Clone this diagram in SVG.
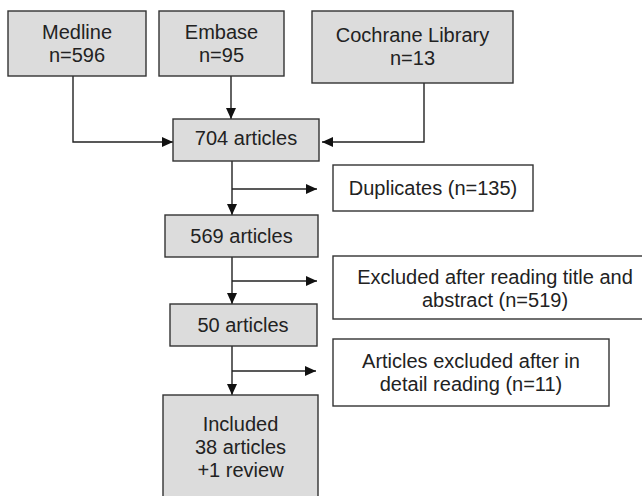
<svg xmlns="http://www.w3.org/2000/svg" width="642" height="496" viewBox="0 0 642 496">
<defs>
<style>
.box{fill:#dcdcdc;stroke:#333;stroke-width:1.4}
.wbox{fill:#fff;stroke:#333;stroke-width:1.4}
.t{font-family:"Liberation Sans",Arial,sans-serif;font-size:20px;fill:#222;text-anchor:middle}
.ln{fill:none;stroke:#222;stroke-width:1.4}
</style>
<marker id="ah" viewBox="0 0 11 10" refX="11" refY="5" markerWidth="11" markerHeight="10" markerUnits="userSpaceOnUse" orient="auto">
<path d="M0,0 L11,5 L0,10 Z" fill="#111"/>
</marker>
</defs>
<rect width="642" height="496" fill="#fff"/>
<g id="connectors">
<path class="ln" d="M73,76 V142 H173" marker-end="url(#ah)"/>
<path class="ln" d="M231,76 V119" marker-end="url(#ah)"/>
<path class="ln" d="M424,83 V142 H322" marker-end="url(#ah)"/>
<path class="ln" d="M232,161 V215" marker-end="url(#ah)"/>
<path class="ln" d="M232,189 H317" marker-end="url(#ah)"/>
<path class="ln" d="M232,257 V304" marker-end="url(#ah)"/>
<path class="ln" d="M232,281 H317" marker-end="url(#ah)"/>
<path class="ln" d="M232,346 V395" marker-end="url(#ah)"/>
<path class="ln" d="M232,371 H316" marker-end="url(#ah)"/>
</g>
<g id="medline">
<rect class="box" x="8" y="11" width="138" height="65"/>
<text class="t" x="77" y="39">Medline</text>
<text class="t" x="77" y="62">n=596</text>
</g>
<g id="embase">
<rect class="box" x="159" y="11" width="125" height="65"/>
<text class="t" x="221.5" y="39">Embase</text>
<text class="t" x="221.5" y="62">n=95</text>
</g>
<g id="cochrane">
<rect class="box" x="312" y="11" width="201" height="72"/>
<text class="t" x="412.5" y="42">Cochrane Library</text>
<text class="t" x="412.5" y="65">n=13</text>
</g>
<g id="articles704">
<rect class="box" x="173" y="119" width="146" height="42"/>
<text class="t" x="246" y="145">704 articles</text>
</g>
<g id="duplicates">
<rect class="wbox" x="333" y="165" width="200" height="46"/>
<text class="t" x="433" y="195">Duplicates (n=135)</text>
</g>
<g id="articles569">
<rect class="box" x="165" y="215" width="153" height="42"/>
<text class="t" x="241.5" y="243">569 articles</text>
</g>
<g id="excluded-title">
<rect class="wbox" x="333" y="256" width="324" height="63"/>
<text class="t" x="495" y="284">Excluded after reading title and</text>
<text class="t" x="495" y="307">abstract (n=519)</text>
</g>
<g id="articles50">
<rect class="box" x="170" y="304" width="147" height="42"/>
<text class="t" x="243" y="332">50 articles</text>
</g>
<g id="excluded-detail">
<rect class="wbox" x="333" y="339" width="276" height="67"/>
<text class="t" x="471" y="368">Articles excluded after in</text>
<text class="t" x="471" y="391">detail reading (n=11)</text>
</g>
<g id="included">
<rect class="box" x="163" y="395" width="155" height="110"/>
<text class="t" x="240.5" y="431">Included</text>
<text class="t" x="240.5" y="454">38 articles</text>
<text class="t" x="240.5" y="477">+1 review</text>
</g>
</svg>
